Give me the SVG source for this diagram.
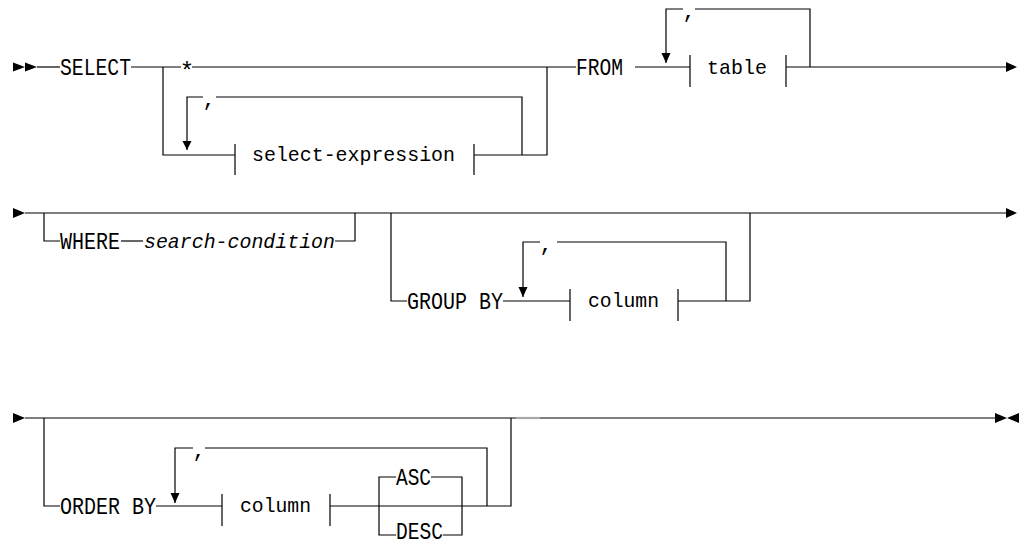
<svg xmlns="http://www.w3.org/2000/svg" width="1022" height="542" viewBox="0 0 1022 542">
<style>
.ln{fill:none;stroke:#000;stroke-width:1.2}
.ah{fill:#000;stroke:none}
.kw{font-family:"Liberation Mono","DejaVu Sans Mono",monospace;font-size:24px;fill:#000}
.var{font-family:"Liberation Mono","DejaVu Sans Mono",monospace;font-size:21px;fill:#000}
.it{font-family:"Liberation Mono","DejaVu Sans Mono",monospace;font-size:21px;font-style:italic;fill:#000}
.cm{font-family:"Liberation Mono","DejaVu Sans Mono",monospace;font-size:22px;fill:#000;text-anchor:middle}
</style>
<rect width="1022" height="542" fill="#fff"/>
<g id="connectors">
  <!-- row 1 -->
  <polygon class="ah" points="13,62.5 25,67 13,71.5"/>
  <polygon class="ah" points="25,62.5 37,67 25,71.5"/>
  <path class="ln" d="M37,67H60"/>
  <path class="ln" d="M131,67H181"/>
  <path class="ln" d="M192,67H576"/>
  <path class="ln" d="M635,67H690"/>
  <path class="ln" d="M786,67H1006"/>
  <polygon class="ah" points="1006,62 1017,67 1006,72"/>
  <!-- select-expression branch -->
  <path class="ln" d="M163,67V155H235"/>
  <path class="ln" d="M474,155H547V67"/>
  <path class="ln" d="M187,150V97H203"/>
  <path class="ln" d="M216,97H522V155"/>
  <polygon class="ah" points="182.5,141 191.5,141 187,150"/>
  <!-- table loop -->
  <path class="ln" d="M666,63V9H683"/>
  <path class="ln" d="M695,9H810V67"/>
  <polygon class="ah" points="661.5,53 670.5,53 666,63"/>
  <!-- row 2 -->
  <polygon class="ah" points="13,208 25,213 13,218"/>
  <path class="ln" d="M25,213H1006"/>
  <polygon class="ah" points="1006,208 1017,213 1006,218"/>
  <path class="ln" d="M44,213V241H60"/>
  <path class="ln" d="M121,241H143"/>
  <path class="ln" d="M335,241H355V213"/>
  <path class="ln" d="M391,213V301H407"/>
  <path class="ln" d="M503,301H570"/>
  <path class="ln" d="M678,301H750V213"/>
  <path class="ln" d="M523,297V242H540"/>
  <path class="ln" d="M557,242H726V301"/>
  <polygon class="ah" points="518.5,287 527.5,287 523,297"/>
  <!-- row 3 -->
  <polygon class="ah" points="13,413 25,418 13,423"/>
  <path class="ln" d="M25,418H995"/>
  <path d="M516,418H540" stroke="#a8a8a8" stroke-width="2.2"/>
  <polygon class="ah" points="995,413 1007,418 995,423"/>
  <polygon class="ah" points="1019,413 1007,418 1019,423"/>
  <path class="ln" d="M44,418V506H60"/>
  <path class="ln" d="M156,506H222"/>
  <path class="ln" d="M330,506H511V418"/>
  <path class="ln" d="M175,503V448H193"/>
  <path class="ln" d="M205,448H487V506"/>
  <polygon class="ah" points="170.5,493 179.5,493 175,503"/>
  <path class="ln" d="M396,477H379V535H396"/>
  <path class="ln" d="M431,477H462V535H443"/>
</g>
<g id="n-select"><text class="kw" x="60" y="74.5" textLength="71" lengthAdjust="spacingAndGlyphs">SELECT</text></g>
<g id="n-star"><text class="kw" x="187" y="79" text-anchor="middle" font-size="20">*</text></g>
<g id="n-select-expression">
  <path class="ln" d="M235,144V175M474,144V175"/>
  <text class="var" x="252" y="161" textLength="203" lengthAdjust="spacingAndGlyphs">select-expression</text>
</g>
<g id="n-comma1"><text class="cm" x="209" y="106">,</text></g>
<g id="n-from"><text class="kw" x="576" y="74.5" textLength="47" lengthAdjust="spacingAndGlyphs">FROM</text></g>
<g id="n-table">
  <path class="ln" d="M690,55V87M786,55V87"/>
  <text class="var" x="707" y="74" textLength="60" lengthAdjust="spacingAndGlyphs">table</text>
</g>
<g id="n-comma2"><text class="cm" x="689" y="18">,</text></g>
<g id="n-where"><text class="kw" x="60" y="248.5" textLength="60" lengthAdjust="spacingAndGlyphs">WHERE</text></g>
<g id="n-search-condition"><text class="it" x="144" y="248" textLength="191" lengthAdjust="spacingAndGlyphs">search-condition</text></g>
<g id="n-groupby"><text class="kw" x="407" y="308.5" textLength="96" lengthAdjust="spacingAndGlyphs">GROUP BY</text></g>
<g id="n-column1">
  <path class="ln" d="M570,289V321M678,289V321"/>
  <text class="var" x="588" y="307" textLength="71" lengthAdjust="spacingAndGlyphs">column</text>
</g>
<g id="n-comma3"><text class="cm" x="546" y="251">,</text></g>
<g id="n-orderby"><text class="kw" x="60" y="513.5" textLength="96" lengthAdjust="spacingAndGlyphs">ORDER BY</text></g>
<g id="n-column2">
  <path class="ln" d="M222,494V526M330,494V526"/>
  <text class="var" x="240" y="512" textLength="71" lengthAdjust="spacingAndGlyphs">column</text>
</g>
<g id="n-comma4"><text class="cm" x="199" y="457">,</text></g>
<g id="n-asc"><text class="kw" x="396" y="484.5" textLength="35" lengthAdjust="spacingAndGlyphs">ASC</text></g>
<g id="n-desc"><text class="kw" x="396" y="538.5" font-size="22" textLength="47" lengthAdjust="spacingAndGlyphs">DESC</text></g>
</svg>
